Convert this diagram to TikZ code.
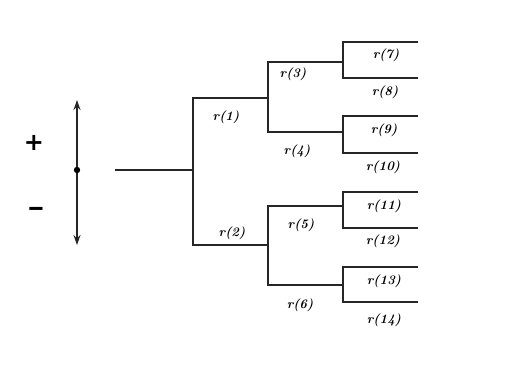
\documentclass[tikz,border=0pt]{standalone}
\usepackage{fontspec}
\newfontfamily\signfont{DejaVu Sans}
\usetikzlibrary{arrows.meta}
\begin{document}
\begin{tikzpicture}[x=1pt,y=-1pt,
  br/.style={line width=1.7pt,black!85},
  lab/.style={font=\bfseries\itshape\fontsize{13}{14}\selectfont,inner sep=1pt},
  sign/.style={font=\signfont\bfseries\fontsize{24}{26}\selectfont}]
\useasboundingbox (0,0) rectangle (514,365);
% axis
\coordinate (atop) at (77,100);
\coordinate (amid) at (77,170);
\coordinate (abot) at (77,245);
\draw[br,-{Stealth[length=10pt,width=7pt]}] (amid) -- (atop);
\draw[br,-{Stealth[length=10pt,width=7pt]}] (amid) -- (abot);
\fill (amid) circle (3.2);
\node[sign] (plus) at (34,143) {+};
\node[sign,xscale=1.4] (minus) at (36,211) {–};
% tree coordinates
\coordinate (r0) at (115,170);
\coordinate (n0) at (193,170);
\coordinate (a1) at (193,98);  \coordinate (b1) at (268,98);
\coordinate (a2) at (193,245); \coordinate (b2) at (268,245);
\coordinate (a3) at (268,62);  \coordinate (b3) at (343,62);
\coordinate (a4) at (268,132); \coordinate (b4) at (343,132);
\coordinate (a5) at (268,206); \coordinate (b5) at (343,206);
\coordinate (a6) at (268,285); \coordinate (b6) at (343,285);
\coordinate (a7) at (343,42);  \coordinate (b7) at (418,42);
\coordinate (a8) at (343,78);  \coordinate (b8) at (418,78);
\coordinate (a9) at (343,116); \coordinate (b9) at (418,116);
\coordinate (a10) at (343,153); \coordinate (b10) at (418,153);
\coordinate (a11) at (343,192); \coordinate (b11) at (418,192);
\coordinate (a12) at (343,228); \coordinate (b12) at (418,228);
\coordinate (a13) at (343,267); \coordinate (b13) at (418,267);
\coordinate (a14) at (343,302); \coordinate (b14) at (418,302);
\draw[br] (r0) -- (n0);
\draw[br] (b1) -- (a1) -- (a2) -- (b2);
\draw[br] (b3) -- (a3) -- (a4) -- (b4);
\draw[br] (b5) -- (a5) -- (a6) -- (b6);
\draw[br] (b7) -- (a7) -- (a8) -- (b8);
\draw[br] (b9) -- (a9) -- (a10) -- (b10);
\draw[br] (b11) -- (a11) -- (a12) -- (b12);
\draw[br] (b13) -- (a13) -- (a14) -- (b14);
% labels
\node[lab] (l1) at (226,117) {r(1)};
\node[lab] (l2) at (232,233) {r(2)};
\node[lab] (l3) at (293,74) {r(3)};
\node[lab] (l4) at (297,151) {r(4)};
\node[lab] (l5) at (301,225) {r(5)};
\node[lab] (l6) at (300,305) {r(6)};
\node[lab] (l7) at (386,55) {r(7)};
\node[lab] (l8) at (385,92) {r(8)};
\node[lab] (l9) at (384,130) {r(9)};
\node[lab] (l10) at (383,167) {r(10)};
\node[lab] (l11) at (384,206) {r(11)};
\node[lab] (l12) at (383,241) {r(12)};
\node[lab] (l13) at (384,281) {r(13)};
\node[lab] (l14) at (384,320) {r(14)};
\end{tikzpicture}
\end{document}
